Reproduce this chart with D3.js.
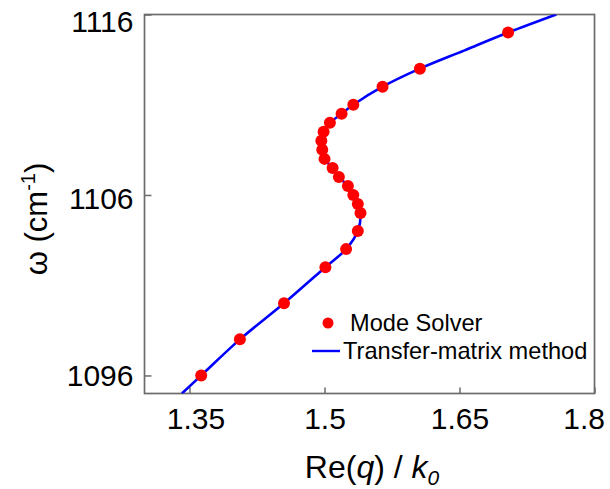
<!DOCTYPE html>
<html>
<head>
<meta charset="utf-8">
<script src="https://cdn.jsdelivr.net/npm/d3@7/dist/d3.min.js"></script>
<style>
  html, body { margin: 0; padding: 0; background: #fff; }
  svg { display: block; font-family: "Liberation Sans", Arial, sans-serif; }
</style>
</head>
<body>
<svg id="chart" width="610" height="489"></svg>
<script>
// Mode Solver points
const msOmega = [1096, 1098, 1100, 1102, 1103, 1104, 1105, 1105.5, 1106, 1106.5, 1107, 1107.5, 1108, 1108.5, 1109, 1109.5, 1110, 1110.5, 1111, 1112, 1113, 1115];
const msQ     = [1.363, 1.406, 1.455, 1.501, 1.524, 1.537, 1.540, 1.537, 1.532, 1.526, 1.516, 1.509, 1.500, 1.4975, 1.4965, 1.499, 1.506, 1.519, 1.532, 1.5645, 1.606, 1.704];
// Transfer-matrix method curve
const tmOmega = [1095, 1096, 1098, 1100, 1102, 1103, 1104, 1105, 1105.5, 1106, 1106.5, 1107, 1107.5, 1108, 1108.5, 1109, 1109.5, 1110, 1110.5, 1111, 1112, 1113, 1114, 1115, 1116];
const tmQ     = [1.3415, 1.363, 1.406, 1.455, 1.501, 1.524, 1.537, 1.540, 1.537, 1.532, 1.526, 1.516, 1.509, 1.500, 1.4975, 1.4965, 1.499, 1.506, 1.519, 1.532, 1.5645, 1.606, 1.655, 1.704, 1.7575];

const xTicks = [1.35, 1.5, 1.65, 1.8];
const xTickLabels = ["1.35", "1.5", "1.65", "1.8"];
const yTicks = [1096, 1106, 1116];
const yTickLabels = ["1096", "1106", "1116"];
const legendLabels = ["Mode Solver", "Transfer-matrix method"];

const svg = d3.select("#chart");
const L = 144.5, R = 594.5, T = 14.5, B = 393.5;

const x = d3.scaleLinear().domain([1.3, 1.8]).range([L, R]);
const y = d3.scaleLinear().domain([1095, 1116]).range([B, T]);

const frameColor = "#6b6b6b";

svg.append("defs").append("clipPath").attr("id", "clip")
  .append("rect").attr("x", L).attr("y", T).attr("width", R - L).attr("height", B - T);

// Axes (inward ticks)
const xAxis = d3.axisBottom(x).tickValues(xTicks)
  .tickFormat((d, i) => xTickLabels[i]).tickSizeInner(-6).tickSizeOuter(0).tickPadding(14);
const gx = svg.append("g").attr("transform", `translate(0,${B})`).call(xAxis);
gx.select(".domain").remove();
gx.selectAll(".tick line").attr("stroke", frameColor).attr("stroke-width", 1.5);
gx.selectAll(".tick text").attr("font-size", 30).attr("fill", "#000")
  .attr("font-family", "'Liberation Sans', Arial, sans-serif");
gx.selectAll(".tick").filter(d => d === 1.8).select("text")
  .attr("text-anchor", "end").attr("x", 10);
gx.selectAll(".tick").filter(d => d === 1.35).select("text").attr("x", 6);

const yAxis = d3.axisLeft(y).tickValues(yTicks)
  .tickFormat((d, i) => yTickLabels[i]).tickSizeInner(-7).tickSizeOuter(0).tickPadding(11);
const gy = svg.append("g").attr("transform", `translate(${L},0)`).call(yAxis);
gy.select(".domain").remove();
gy.selectAll(".tick line").attr("stroke", frameColor).attr("stroke-width", 1.5);
gy.selectAll(".tick text").attr("font-size", 30).attr("fill", "#000")
  .attr("font-family", "'Liberation Sans', Arial, sans-serif");
gy.selectAll(".tick").filter(d => d === 1116).select("text").attr("y", 7);
gy.selectAll(".tick").filter(d => d === 1106).select("text").attr("y", 4);

// Frame
svg.append("rect").attr("x", L).attr("y", T).attr("width", R - L).attr("height", B - T)
  .attr("fill", "none").attr("stroke", frameColor).attr("stroke-width", 1.7);

// Transfer-matrix line
const tmData = tmOmega.map((w, i) => ({ q: tmQ[i], w }));
const line = d3.line().x(d => x(d.q)).y(d => y(d.w)).curve(d3.curveCatmullRom.alpha(0.5));
svg.append("path").datum(tmData).attr("clip-path", "url(#clip)")
  .attr("d", line).attr("fill", "none").attr("stroke", "#0000ff").attr("stroke-width", 2.6);

// Mode solver dots
const msData = msOmega.map((w, i) => ({ q: msQ[i], w }));
svg.append("g").selectAll("circle").data(msData).join("circle")
  .attr("cx", d => x(d.q)).attr("cy", d => y(d.w)).attr("r", 6).attr("fill", "#ff0000");

// Axis titles
const yt = svg.append("text").attr("transform", "translate(47,219) rotate(-90)")
  .attr("text-anchor", "middle").attr("font-size", 31).attr("fill", "#000");
yt.append("tspan").text("ω (cm");
yt.append("tspan").attr("font-size", 20).attr("dy", -12).text("-1");
yt.append("tspan").attr("dy", 12).text(")");

const xt = svg.append("text").attr("x", 372).attr("y", 478)
  .attr("text-anchor", "middle").attr("font-size", 32).attr("fill", "#000");
xt.append("tspan").text("Re(");
xt.append("tspan").attr("font-style", "italic").text("q");
xt.append("tspan").text(") / ");
xt.append("tspan").attr("font-style", "italic").text("k");
xt.append("tspan").attr("font-style", "italic").attr("font-size", 21).attr("dy", 7).text("0");

// Legend
const lg = svg.append("g");
lg.append("circle").attr("cx", 328).attr("cy", 323).attr("r", 5.5).attr("fill", "#ff0000");
lg.append("text").attr("x", 350).attr("y", 331).attr("font-size", 23.6).attr("fill", "#000").text(legendLabels[0]);
lg.append("line").attr("x1", 312).attr("x2", 340).attr("y1", 351).attr("y2", 351)
  .attr("stroke", "#0000ff").attr("stroke-width", 2.4);
lg.append("text").attr("x", 343).attr("y", 359).attr("font-size", 23.6).attr("fill", "#000").text(legendLabels[1]);
</script>
</body>
</html>
